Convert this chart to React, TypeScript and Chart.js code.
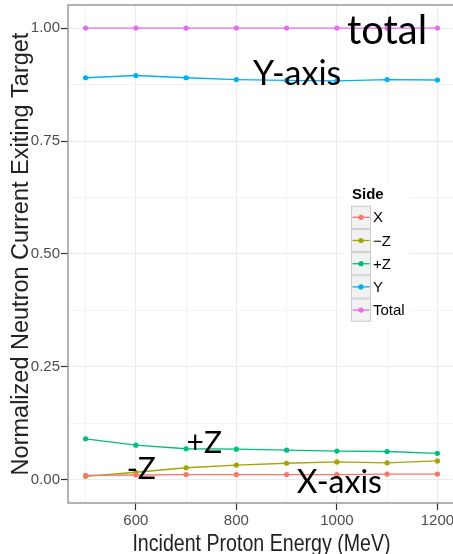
import React, { useEffect, useRef } from "react";
import { Chart, registerables } from "chart.js";

Chart.register(...registerables);

// ---- data ----
const energies = [500, 600, 700, 800, 900, 1000, 1100, 1200];
const sideNames = ["X", "\u2212Z", "+Z", "Y", "Total"];
const sideColors = ["#F8766D", "#A3A500", "#00BF7D", "#00B0F6", "#E76BF3"];
const xSide = [0.010, 0.011, 0.012, 0.012, 0.012, 0.012, 0.013, 0.013];
const minusZSide = [0.008, 0.017, 0.027, 0.033, 0.037, 0.040, 0.038, 0.042];
const plusZSide = [0.091, 0.077, 0.069, 0.068, 0.066, 0.064, 0.063, 0.059];
const ySide = [0.890, 0.895, 0.890, 0.886, 0.884, 0.883, 0.886, 0.885];
const totalSide = [1.0, 1.0, 1.0, 1.0, 1.0, 1.0, 1.0, 1.0];
const seriesValues = [xSide, minusZSide, plusZSide, ySide, totalSide];

const xGridValues = [500, 600, 700, 800, 900, 1000, 1100, 1200];
const xLabelValues = [600, 800, 1000, 1200];
const yGridValues = [0, 0.125, 0.25, 0.375, 0.5, 0.625, 0.75, 0.875, 1.0];
const yLabelValues = [0, 0.25, 0.5, 0.75, 1.0];

const legendTitle = "Side";
const xTitle = "Incident Proton Energy (MeV)";
const yTitle = "Normalized Neutron Current Exiting Target";

const noteTexts = ["total", "Y-axis", "+Z", "-Z", "X-axis"];
const noteX = [1020, 833, 701, 582, 920];
const noteY = [0.9646, 0.874, 0.0604, 0.0022, -0.0288];
const noteSizes = [40, 34, 30, 30, 32];

const SANS = '"Liberation Sans", Arial, sans-serif';
const NOTE_FONT = 'Lato, "Open Sans", sans-serif';

const isIn = (arr: number[], v: number) => arr.some((a) => Math.abs(a - v) < 1e-9);

const panelPlugin = {
  id: "panelBorder",
  afterDatasetsDraw(chart: any) {
    const { ctx, chartArea } = chart;
    ctx.save();
    ctx.strokeStyle = "#999999";
    ctx.lineWidth = 1.5;
    ctx.strokeRect(chartArea.left, chartArea.top, chartArea.right - chartArea.left, chartArea.bottom - chartArea.top);
    ctx.restore();
  },
};

const notesPlugin = {
  id: "notes",
  afterDatasetsDraw(chart: any) {
    const { ctx, scales } = chart;
    ctx.save();
    ctx.fillStyle = "#000000";
    ctx.textAlign = "left";
    ctx.textBaseline = "alphabetic";
    noteTexts.forEach((t, i) => {
      ctx.font = `${noteSizes[i]}px ${NOTE_FONT}`;
      ctx.fillText(t, scales.x.getPixelForValue(noteX[i]), scales.y.getPixelForValue(noteY[i]));
    });
    ctx.restore();
  },
};

// x-axis title drawn slightly condensed, as in the reference
const xTitlePlugin = {
  id: "xTitle",
  afterDraw(chart: any) {
    const { ctx, chartArea, height } = chart;
    ctx.save();
    ctx.fillStyle = "#222222";
    ctx.font = `24.5px ${SANS}`;
    ctx.textAlign = "center";
    ctx.textBaseline = "alphabetic";
    ctx.translate((chartArea.left + chartArea.right) / 2, height - 3);
    ctx.scale(0.8, 1);
    ctx.fillText(xTitle, 0, 0);
    ctx.restore();
  },
};

const legendPlugin = {
  id: "sideLegend",
  afterDraw(chart: any) {
    const { ctx, chartArea } = chart;
    const x0 = chartArea.left + 277;
    const y0 = chartArea.top + 180;
    ctx.save();
    ctx.fillStyle = "#ffffff";
    ctx.fillRect(x0, y0, 65, 142);
    ctx.fillStyle = "#000000";
    ctx.textAlign = "left";
    ctx.textBaseline = "middle";
    ctx.font = `bold 15px ${SANS}`;
    ctx.fillText(legendTitle, x0 + 7, y0 + 10);
    const keyX = x0 + 6;
    const keyW = 20;
    const keyH = 23.2;
    const keyTop = y0 + 20.7;
    ctx.font = `15px ${SANS}`;
    chart.data.datasets.forEach((ds: any, i: number) => {
      const ky = keyTop + i * keyH;
      ctx.fillStyle = "#F2F2F2";
      ctx.fillRect(keyX, ky, keyW, keyH);
      ctx.strokeStyle = "#CCCCCC";
      ctx.lineWidth = 1;
      ctx.strokeRect(keyX + 0.5, ky + 0.5, keyW - 1, keyH - 1);
      const cy = ky + keyH / 2;
      ctx.strokeStyle = ds.borderColor;
      ctx.lineWidth = 1.3;
      ctx.beginPath();
      ctx.moveTo(keyX + 1.5, cy);
      ctx.lineTo(keyX + keyW - 1.5, cy);
      ctx.stroke();
      ctx.fillStyle = ds.borderColor;
      ctx.beginPath();
      ctx.arc(keyX + keyW / 2, cy, 2.6, 0, Math.PI * 2);
      ctx.fill();
      ctx.fillStyle = "#000000";
      ctx.fillText(ds.label, keyX + keyW + 2, cy + 1);
    });
    ctx.restore();
  },
};

export default function App() {
  const ref = useRef<HTMLCanvasElement | null>(null);

  useEffect(() => {
    if (!ref.current) return;
    const chart = new Chart(ref.current, {
      type: "line",
      data: {
        datasets: sideNames.map((name, i) => ({
          label: name,
          data: energies.map((e, j) => ({ x: e, y: seriesValues[i][j] })),
          borderColor: sideColors[i],
          backgroundColor: sideColors[i],
          borderWidth: 1.3,
          pointRadius: 2.6,
          pointBorderWidth: 0,
          pointBackgroundColor: sideColors[i],
          tension: 0,
          fill: false,
        })),
      },
      options: {
        animation: false,
        responsive: false,
        maintainAspectRatio: false,
        layout: { padding: { top: 5, right: 7, left: 0, bottom: 0 } },
        plugins: { legend: { display: false }, tooltip: { enabled: false } },
        scales: {
          x: {
            type: "linear",
            min: 465,
            max: 1235,
            afterBuildTicks: (s: any) => {
              s.ticks = xGridValues.map((v) => ({ value: v }));
            },
            afterFit: (s: any) => {
              s.height = 51;
              s.paddingLeft = 0;
              s.paddingRight = 0;
            },
            ticks: {
              autoSkip: false,
              maxRotation: 0,
              padding: 2,
              color: "#4D4D4D",
              font: { family: SANS, size: 15 },
              callback: (v: any) => (isIn(xLabelValues, Number(v)) ? String(v) : ""),
            },
            grid: {
              color: (c: any) => (c.tick && isIn(xLabelValues, c.tick.value) ? "#EBEBEB" : "#F3F3F3"),
              lineWidth: 1,
              tickLength: 7,
              tickWidth: 1.2,
              tickColor: (c: any) => (c.tick && isIn(xLabelValues, c.tick.value) ? "#333333" : "rgba(0,0,0,0)"),
            },
            border: { display: false },
            title: { display: false, text: xTitle },
          },
          y: {
            type: "linear",
            min: -0.051,
            max: 1.051,
            afterBuildTicks: (s: any) => {
              s.ticks = yGridValues.map((v) => ({ value: v }));
            },
            afterFit: (s: any) => {
              s.width = 68;
              s.paddingTop = 0;
              s.paddingBottom = 0;
            },
            ticks: {
              autoSkip: false,
              padding: 1,
              color: "#4D4D4D",
              font: { family: SANS, size: 15 },
              callback: (v: any) => (isIn(yLabelValues, Number(v)) ? Number(v).toFixed(2) : ""),
            },
            grid: {
              color: (c: any) => (c.tick && isIn(yLabelValues, c.tick.value) ? "#EBEBEB" : "#F3F3F3"),
              lineWidth: 1,
              tickLength: 7,
              tickWidth: 1.2,
              tickColor: (c: any) => (c.tick && isIn(yLabelValues, c.tick.value) ? "#333333" : "rgba(0,0,0,0)"),
            },
            border: { display: false },
            title: {
              display: true,
              text: yTitle,
              color: "#222222",
              font: { family: SANS, size: 23.5, lineHeight: 1.0 },
              padding: { top: 9.5, bottom: 0 },
            },
          },
        },
      },
      plugins: [panelPlugin, notesPlugin, legendPlugin, xTitlePlugin],
    } as any);
    return () => chart.destroy();
  }, []);

  return (
    <div style={{ position: "fixed", left: 0, top: 0, width: 453, height: 554, overflow: "hidden", background: "#fff" }}>
      <canvas ref={ref} width={462} height={554} style={{ display: "block" }} />
    </div>
  );
}
